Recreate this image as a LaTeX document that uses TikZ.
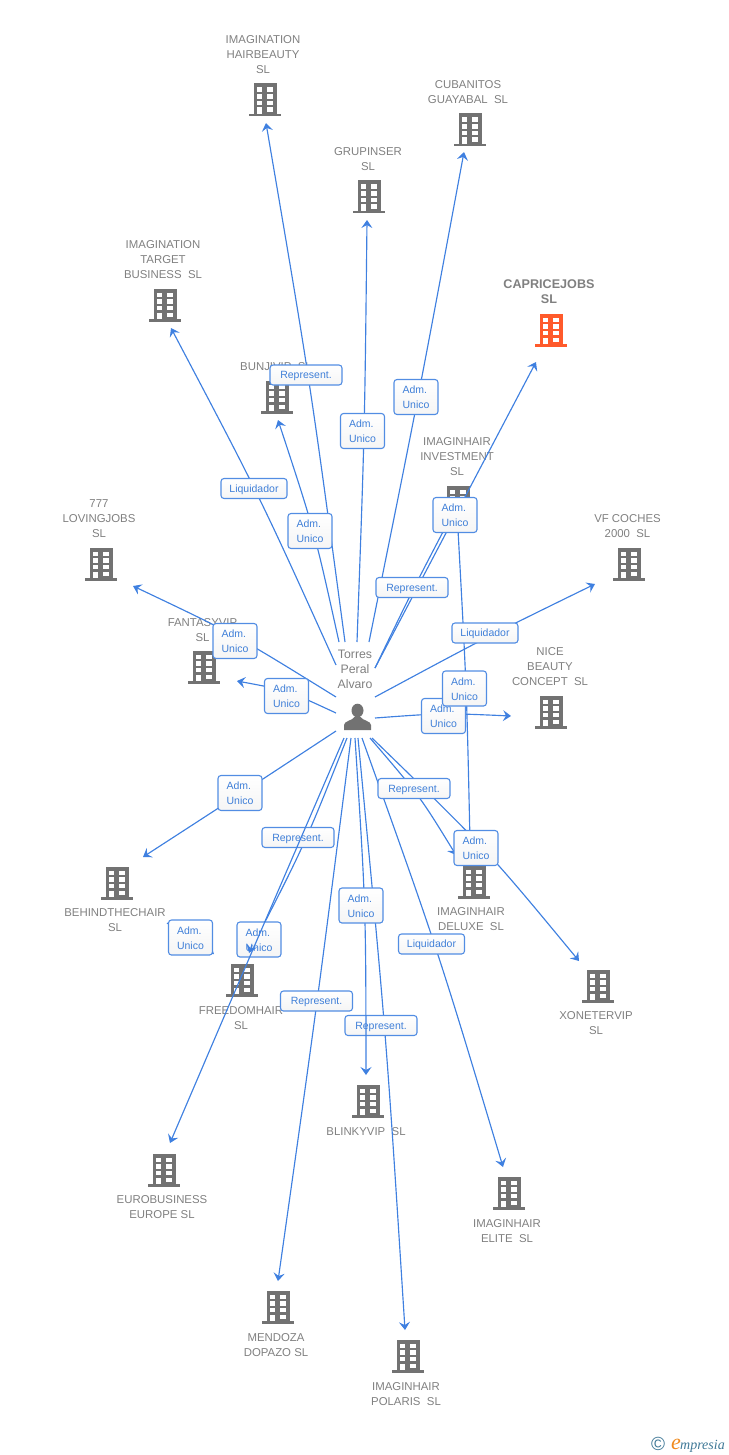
\documentclass[tikz,border=0pt]{standalone}
\usepackage{fontspec}
\setmainfont{Liberation Sans}
\newfontfamily\logofont{Liberation Serif}
\usetikzlibrary{arrows.meta,calc}
\definecolor{txtgrey}{HTML}{808080}
\definecolor{icongrey}{HTML}{727272}
\definecolor{iconorange}{HTML}{FF5A2B}
\definecolor{linkblue}{HTML}{3F80E0}
\definecolor{boxtext}{HTML}{3F7FD8}
\definecolor{logoblue}{HTML}{3F7896}
\definecolor{logoorange}{HTML}{F08A1D}
\tikzset{
  x=1pt,y=-1pt,
  conn/.style={draw=linkblue,line width=1.15pt,-{Stealth[length=8pt,width=11pt,inset=3pt]}},
  plainconn/.style={draw=linkblue,line width=1.15pt},
  firmname/.style={text=txtgrey,align=center,font=\fontsize{11.4}{15}\selectfont,inner sep=0pt},
  rolebox/.style={draw=linkblue!90,line width=1.1pt,rounded corners=3pt,top color=white,bottom color=white!96!black,
    text=boxtext,font=\fontsize{10.5}{15}\selectfont,inner sep=0pt},
  twoline/.style={rolebox,minimum width=44pt,minimum height=35pt},
  oneline/.style={rolebox,minimum height=20pt},
  repbox/.style={oneline,minimum width=72pt},
  liqbox/.style={oneline,minimum width=66pt},
  pics/bldg/.style={code={
    \fill[#1] (-11.5,-16.5) rectangle (11.5,14.5);
    \fill[#1] (-16,14) rectangle (16,16.5);
    \foreach \yy in {-12.5,-5.8,0.8}{
      \fill[white] (-8,\yy) rectangle (-2.6,\yy+4.6);
      \fill[white] (2.4,\yy) rectangle (7.8,\yy+4.6);
    }
    \fill[white] (-8,7.5) rectangle (-2.6,14);
    \fill[white] (2.4,7.5) rectangle (7.8,12);
  }},
  pics/personicon/.style={code={
    \fill[icongrey] (0,-6.5) ellipse (6 and 6.8);
    \fill[icongrey] (-13.5,13) -- (-13.5,8) .. controls (-13.5,4) and (-5,3.5) .. (-3,0) -- (3,0)
       .. controls (5,3.5) and (13.5,4) .. (13.5,8) -- (13.5,13) -- cycle;
  }}
}
\newcommand\conn[4][conn]{\draw[#1] (#2) .. controls ($($(#2)!.5!(#4)$)!1.3333!(#3)$) .. (#4);}
\newcommand\admu{\raisebox{-1pt}[\height][\depth]{\begin{tabular}[c]{@{}l@{}}Adm.\\Unico\end{tabular}}}
\newcommand\boxline[1]{\raisebox{-1pt}[\height][\depth]{#1}}
\begin{document}
\begin{tikzpicture}
\useasboundingbox (0,0) rectangle (728,1455);
% firm names
\node[firmname] (nHair) at (263,55) {IMAGINATION\\HAIRBEAUTY\\SL};
\node[firmname] (nCuba) at (468,92.5) {CUBANITOS\\GUAYABAL\ \ SL};
\node[firmname] (nGrup) at (368,159.5) {GRUPINSER\\SL};
\node[firmname] (nTarg) at (163,260) {IMAGINATION\\TARGET\\BUSINESS\ \ SL};
\node[firmname,font=\bfseries\fontsize{12.6}{15}\selectfont] (nCapr) at (549,292) {CAPRICEJOBS\\SL};
\node[firmname] (nBunj) at (276,366.5) {BUNJIVIP\ \ SL};
\node[firmname] (nInve) at (457,457) {IMAGINHAIR\\INVESTMENT\\SL};
\node[firmname] (n777) at (99,519) {777\\LOVINGJOBS\\SL};
\node[firmname] (nVfco) at (627.5,526) {VF COCHES\\2000\ \ SL};
\node[firmname] (nFant) at (202.5,630.5) {FANTASYVIP\\SL};
\node[firmname] (nNice) at (550,667) {NICE\\BEAUTY\\CONCEPT\ \ SL};
\node[firmname] (nBehi) at (115,920) {BEHINDTHECHAIR\\SL};
\node[firmname] (nDelu) at (471,919) {IMAGINHAIR\\DELUXE\ \ SL};
\node[firmname] (nFree) at (241,1018) {FREEDOMHAIR\\SL};
\node[firmname] (nXone) at (596,1023) {XONETERVIP\\SL};
\node[firmname] (nBlin) at (366,1132) {BLINKYVIP\ \ SL};
\node[firmname] (nEuro) at (162,1207) {EUROBUSINESS\\EUROPE SL};
\node[firmname] (nElit) at (507,1231) {IMAGINHAIR\\ELITE\ \ SL};
\node[firmname] (nMend) at (276,1345) {MENDOZA\\DOPAZO SL};
\node[firmname] (nPola) at (406,1394) {IMAGINHAIR\\POLARIS\ \ SL};
\node[firmname,font=\fontsize{12.3}{15}\selectfont] (torres) at (355,669) {Torres\\Peral\\Alvaro};
% icons
\pic at (265,100) {bldg=icongrey};
\pic at (470,130) {bldg=icongrey};
\pic at (369,197) {bldg=icongrey};
\pic at (165,305) {bldg=icongrey};
\pic at (551,330) {bldg=iconorange};
\pic at (277,397) {bldg=icongrey};
\pic at (458,502) {bldg=icongrey};
\pic at (101,564) {bldg=icongrey};
\pic at (629,564) {bldg=icongrey};
\pic at (204,667) {bldg=icongrey};
\pic at (551,712) {bldg=icongrey};
\pic at (117,883) {bldg=icongrey};
\pic at (474,882) {bldg=icongrey};
\pic at (242,980) {bldg=icongrey};
\pic at (598,986) {bldg=icongrey};
\pic at (368,1101) {bldg=icongrey};
\pic at (164,1170) {bldg=icongrey};
\pic at (509,1193) {bldg=icongrey};
\pic at (278,1307) {bldg=icongrey};
\pic at (408,1356) {bldg=icongrey};
\pic at (357.5,717) {personicon};
% connector anchor points
\coordinate (s1) at (345,642);  \coordinate (v1) at (309,382);  \coordinate (t1) at (266,123);
\coordinate (s2) at (357,642);  \coordinate (v2) at (364,431);  \coordinate (t2) at (367,220);
\coordinate (s3) at (369,642);  \coordinate (v3) at (418,397);  \coordinate (t3) at (464,152);
\coordinate (s4) at (336,665);  \coordinate (v4) at (258.5,497);\coordinate (t4) at (171,328);
\coordinate (s5) at (339,642);  \coordinate (v5) at (313,531);  \coordinate (t5) at (278,420);
\coordinate (s6) at (375,668);  \coordinate (v6) at (455.5,515);\coordinate (t6) at (536,362);
\coordinate (s7) at (375,668);  \coordinate (v7) at (414,588);  \coordinate (t7) at (457,505);
\coordinate (s8) at (375,697);  \coordinate (v8) at (485,638.5);\coordinate (t8) at (595,584);
\coordinate (s9) at (375,718);  \coordinate (v9) at (443,714);  \coordinate (t9) at (511,716);
\coordinate (s10) at (458,530); \coordinate (v10) at (466,688); \coordinate (t10) at (470,842);
\coordinate (s11) at (370,738); \coordinate (v11) at (418,796); \coordinate (t11) at (456,855);
\coordinate (s12) at (372,738); \coordinate (v12) at (484,849.5);\coordinate (t12) at (579,961);
\coordinate (s13) at (362,738); \coordinate (v13) at (437,952); \coordinate (t13) at (503,1167);
\coordinate (s14) at (355,738); \coordinate (v14) at (364.5,906);\coordinate (t14) at (366,1075);
\coordinate (s15) at (358,738); \coordinate (v15) at (385,1034);\coordinate (t15) at (405,1330);
\coordinate (s16) at (351,738); \coordinate (v16) at (316,1009);\coordinate (t16) at (278,1281);
\coordinate (s17) at (347,738); \coordinate (v17) at (303,845); \coordinate (t17) at (249,953);
\coordinate (s18) at (344,738); \coordinate (v18) at (257,940); \coordinate (t18) at (170,1143);
\coordinate (s19) at (336,731); \coordinate (v19) at (240,794); \coordinate (t19) at (143,857);
\coordinate (s20) at (167,923); \coordinate (v20) at (191,938); \coordinate (t20) at (214,954);
\coordinate (s21) at (336,697); \coordinate (v21) at (234.5,636);\coordinate (t21) at (133,586);
\coordinate (s22) at (336,713); \coordinate (v22) at (287,692); \coordinate (t22) at (237,681);
% connectors under the role boxes
\conn{s1}{v1}{t1}
\conn{s2}{v2}{t2}
\conn{s3}{v3}{t3}
\conn{s4}{v4}{t4}
\conn{s5}{v5}{t5}
\conn{s6}{v6}{t6}
\conn{s7}{v7}{t7}
\conn{s8}{v8}{t8}
\conn{s9}{v9}{t9}
\conn{s10}{v10}{t10}
\conn{s11}{v11}{t11}
\conn{s12}{v12}{t12}
\conn{s13}{v13}{t13}
\conn{s15}{v15}{t15}
\conn{s16}{v16}{t16}
\conn[plainconn]{s17}{v17}{t17}
\conn{s19}{v19}{t19}
\conn{s20}{v20}{t20}
\conn{s21}{v21}{t21}
\conn{s22}{v22}{t22}
% this box lies under the Blinkyvip connector
\node[repbox] (r15) at (381,1025.5) {\boxline{Represent.}};
\conn{s14}{v14}{t14}
% role boxes
\node[repbox] (r1) at (306,375) {\boxline{Represent.}};
\node[twoline] (r2) at (362.5,431) {\admu};
\node[twoline] (r3) at (416,397) {\admu};
\node[liqbox] (r4) at (254,488.5) {\boxline{Liquidador}};
\node[twoline] (r5) at (310,531) {\admu};
\node[repbox] (r6) at (412,587.5) {\boxline{Represent.}};
\node[twoline] (r7) at (455,515) {\admu};
\node[liqbox] (r8) at (485,633) {\boxline{Liquidador}};
\node[twoline] (r9) at (443.5,716) {\admu};
\node[twoline] (r10) at (464.5,688.5) {\admu};
\node[repbox] (r11) at (414,788.5) {\boxline{Represent.}};
\node[twoline] (r12) at (476,848) {\admu};
\node[liqbox] (r13) at (431.5,944) {\boxline{Liquidador}};
\node[twoline] (r14) at (361,905.5) {\admu};
\node[repbox] (r16) at (316.5,1001) {\boxline{Represent.}};
\node[repbox] (r17) at (298,837.5) {\boxline{Represent.}};
\node[twoline] (r18) at (259,939.5) {\admu};
\node[twoline] (r19) at (240,793) {\admu};
\node[twoline] (r20) at (190.5,937.5) {\admu};
\node[twoline] (r21) at (235,641) {\admu};
\node[twoline] (r22) at (286.5,696) {\admu};
% connector lying over its box
\conn{s18}{v18}{t18}
\coordinate (h1) at (252,945);
\draw[conn] (h1) -- (t17);
% logo
\node[inner sep=0pt,text=logoblue,font=\fontsize{19}{19}\selectfont] (copy) at (658,1444) {\textcopyright};
\node[inner sep=0pt,anchor=base west,text=logoorange,font=\logofont\itshape\fontsize{22}{22}\selectfont] (loge) at (671,1449) {e};
\node[inner sep=0pt,anchor=base west,text=logoblue,font=\logofont\itshape\fontsize{14}{14}\selectfont] (logt) at (680,1449) {mpresia};
\end{tikzpicture}
\end{document}
